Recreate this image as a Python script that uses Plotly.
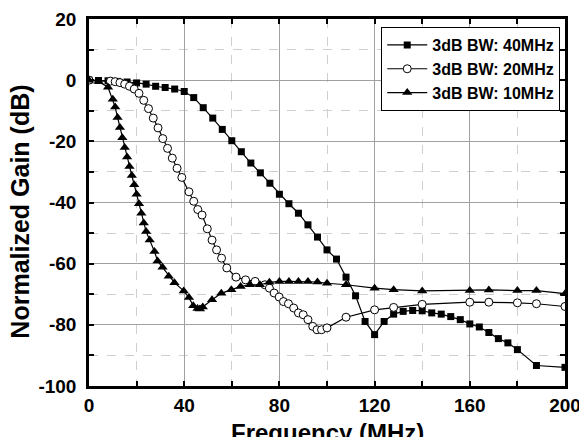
import plotly.graph_objects as go

# 3 dB bandwidth 40 MHz
f40 = [0, 4, 8, 12, 16, 20, 24, 28, 32, 36, 40, 44, 48, 52, 56, 60, 64, 68, 72, 76,
       80, 84, 88, 92, 96, 100, 104, 108, 112, 116, 120, 124, 128, 132, 136, 140,
       144, 148, 152, 156, 160, 164, 168, 172, 176, 180, 188, 200]
g40 = [0, -0.1, -0.2, -0.4, -0.6, -0.9, -1.3, -2.0, -2.4, -2.9, -3.7, -5.7, -9.0,
       -12.4, -16.1, -19.8, -23.4, -27.1, -30.3, -33.7, -37.3, -40.4, -43.5, -47.3,
       -51.3, -55.5, -58.5, -64.4, -70.5, -78.9, -83.2, -78.9, -76.5, -75.6, -75.3,
       -75.4, -76.1, -76.5, -77.3, -78.3, -79.7, -80.7, -82.5, -84.5, -85.9, -88.1,
       -93.3, -93.9]

# 3 dB bandwidth 20 MHz
f20 = [0, 9, 11, 13, 15, 17, 19, 21, 23, 25, 27, 29, 31, 33, 35, 37, 39, 42, 44,
       45.7, 47.5, 49.7, 51.7, 53.6, 55.7, 57.9, 61.8, 65.8, 69.8, 73.9, 75.8, 77.8,
       79.9, 81.7, 83.8, 86, 88, 90, 92, 94, 95.8, 97.7, 100, 108, 120, 128, 140,
       160, 168, 180, 188, 200]
g20 = [0, -0.3, -0.5, -0.8, -1.3, -2.0, -2.9, -4.3, -6.6, -9.3, -12.4, -15.6, -19.1,
       -22.3, -25.5, -28.8, -31.8, -36.5, -39.6, -42.3, -44.1, -48.6, -52.3, -55.5,
       -58.2, -61.4, -64.4, -65.3, -65.8, -66.9, -68.0, -69.6, -70.9, -72.4, -73.1,
       -74.5, -76.1, -76.7, -78.3, -80.5, -81.6, -81.6, -81.0, -77.5, -75.1, -74.3,
       -73.3, -72.6, -72.6, -72.8, -73.1, -74.0]

# 3 dB bandwidth 10 MHz
f10 = [0, 4, 8, 10, 11, 12, 13, 14, 15, 16, 17, 18, 19, 20, 21, 22, 23, 24, 25.5,
       27.5, 28.8, 30.9, 33.5, 35.9, 39.8, 42, 43.8, 45.6, 46.6, 47.8, 51.7, 55.6,
       59.8, 63.7, 67.6, 71.8, 75.8, 80, 84, 88, 92, 96, 100, 108, 120, 128, 140,
       160, 168, 180, 188, 200]
g10 = [0, -0.4, -2.3, -6.2, -8.8, -12.2, -15.5, -18.8, -22.0, -25.1, -28.2, -31.2,
       -34.2, -37.3, -40.4, -43.5, -46.7, -49.5, -52.3, -56.0, -59.1, -61.2, -64.1,
       -66.2, -68.9, -71.1, -73.8, -74.7, -74.8, -74.2, -71.8, -69.7, -68.5, -67.5,
       -66.9, -66.9, -66.1, -65.8, -65.8, -65.8, -65.8, -66.0, -66.4, -66.9, -68.0,
       -68.5, -68.9, -68.8, -68.6, -68.8, -68.8, -69.8]

x_ticks = [0, 40, 80, 120, 160, 200]
y_ticks = [20, 0, -20, -40, -60, -80, -100]

FONT = "Liberation Sans, Arial, sans-serif"

fig = go.Figure()
fig.add_trace(go.Scatter(
    x=f40, y=g40, mode="lines+markers", name="<b>3dB BW: 40MHz</b>",
    line=dict(color="black", width=1.2),
    marker=dict(symbol="square", size=7, color="black")))
fig.add_trace(go.Scatter(
    x=f20, y=g20, mode="lines+markers", name="<b>3dB BW: 20MHz</b>",
    line=dict(color="black", width=1.2),
    marker=dict(symbol="circle", size=8, color="white",
                line=dict(color="black", width=1))))
fig.add_trace(go.Scatter(
    x=f10, y=g10, mode="lines+markers", name="<b>3dB BW: 10MHz</b>",
    line=dict(color="black", width=1.2),
    marker=dict(symbol="triangle-up", size=9, color="black")))

axis_common = dict(
    showline=True, linecolor="black", linewidth=2.5, mirror="ticks",
    ticks="inside", ticklen=5, tickwidth=1.5, tickcolor="black",
    showgrid=True, gridcolor="#a0a0a0", gridwidth=1,
    zeroline=False, ticklabeloverflow="allow",
    tickfont=dict(family=FONT, size=19, color="black", weight="bold"),
)

fig.update_xaxes(
    range=[0, 200], tickvals=x_ticks, ticktext=[str(v) for v in x_ticks],
    minor=dict(dtick=20, ticks="inside", ticklen=5, tickcolor="black",
               showgrid=True, gridcolor="#cfcfcf", griddash="dash", gridwidth=1),
    ticklabelstandoff=0,
    **axis_common)
fig.update_yaxes(
    range=[-100, 20], tickvals=y_ticks, ticktext=[str(v) for v in y_ticks],
    minor=dict(dtick=10, ticks="inside", ticklen=5, tickcolor="black",
               showgrid=True, gridcolor="#cfcfcf", griddash="dash", gridwidth=1),
    ticklabelstandoff=6,
    **axis_common)

# axis titles placed as paper-anchored annotations
fig.add_annotation(
    text="<b>Frequency (MHz)</b>", xref="paper", yref="paper",
    x=0.5, y=-0.085, xanchor="center", yanchor="top", showarrow=False,
    font=dict(family=FONT, size=24, color="black"))
fig.add_annotation(
    text="<b>Normalized Gain (dB)</b>", xref="paper", yref="paper",
    x=-0.145, y=0.475, xanchor="center", yanchor="middle", showarrow=False,
    textangle=-90, font=dict(family=FONT, size=25, color="black"))

fig.update_layout(
    width=579, height=437,
    margin=dict(l=89, r=14, t=19, b=51, autoexpand=False),
    plot_bgcolor="white", paper_bgcolor="white",
    showlegend=True,
    legend=dict(x=0.99, y=0.978, xanchor="right", yanchor="top",
                bgcolor="white", bordercolor="black", borderwidth=1,
                font=dict(family=FONT, size=16, color="black"),
                tracegroupgap=0, itemwidth=40),
)

fig.write_html("out.html")
